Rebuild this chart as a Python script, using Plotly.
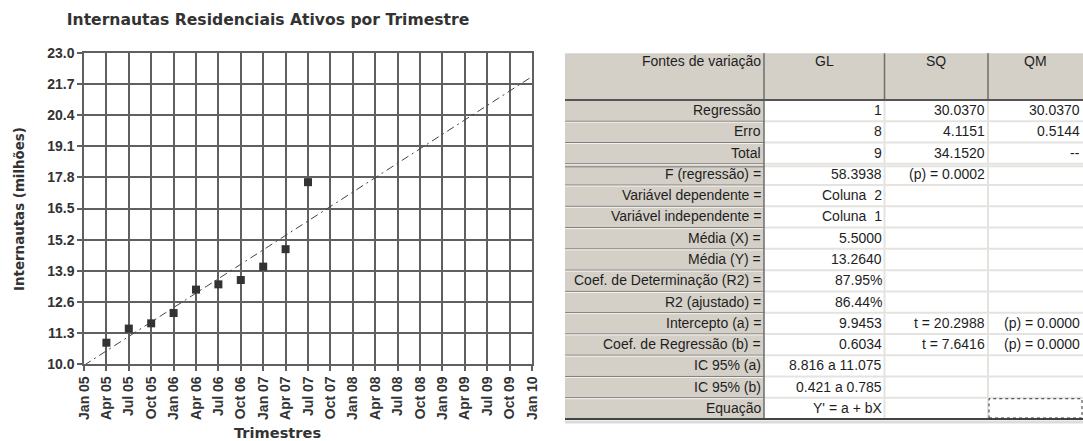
import plotly.graph_objects as go

# ---------------- data ----------------
quarters = ["Jan 05", "Apr 05", "Jul 05", "Oct 05", "Jan 06", "Apr 06", "Jul 06",
            "Oct 06", "Jan 07", "Apr 07", "Jul 07", "Oct 07", "Jan 08", "Apr 08",
            "Jul 08", "Oct 08", "Jan 09", "Apr 09", "Jul 09", "Oct 09", "Jan 10"]
obs_quarters = ["Apr 05", "Jul 05", "Oct 05", "Jan 06", "Apr 06", "Jul 06",
                "Oct 06", "Jan 07", "Apr 07", "Jul 07"]
users_mi = [10.89, 11.48, 11.70, 12.13, 13.11, 13.33, 13.51, 14.07, 14.80, 17.60]
intercept = 9.9453
slope = 0.6034

table_header = ["Fontes de variação", "GL", "SQ", "QM"]
row_labels = ["Regressão", "Erro", "Total", "F (regressão) =", "Variável dependente =",
              "Variável independente =", "Média (X) =", "Média (Y) =",
              "Coef. de Determinação (R2) =", "R2 (ajustado) =", "Intercepto (a) =",
              "Coef. de Regressão (b) =", "IC 95% (a)", "IC 95% (b)", "Equação"]
col_gl = ["1", "8", "9", "58.3938", "Coluna \u00a02", "Coluna \u00a01", "5.5000", "13.2640",
          "87.95%", "86.44%", "9.9453", "0.6034", "8.816 a 11.075", "0.421 a 0.785",
          "Y' = a + bX"]
col_sq = ["30.0370", "4.1151", "34.1520", "(p) = 0.0002", "", "", "", "", "", "",
          "t = 20.2988", "t = 7.6416", "", "", ""]
col_qm = ["30.0370", "0.5144", "--", "", "", "", "", "", "", "",
          "(p) = 0.0000", "(p) = 0.0000", "", "", ""]

# ---------------- layout helpers ----------------
W, H = 1083, 441
def px(x):
    return x / W
def py(y):
    return 1 - y / H

TXT = "#333333"
GRID = "#606060"
tickfont = dict(family="Liberation Sans, Arial, sans-serif", size=14, color=TXT, weight="bold")

fig = go.Figure()
idx_end = len(quarters) - 1
fig.add_trace(go.Scatter(
    x=[quarters[0], quarters[-1]],
    y=[intercept, intercept + slope * idx_end],
    mode="lines", line=dict(color="#444444", width=1, dash="8px,4px,2px,4px"),
    hoverinfo="skip", showlegend=False))
fig.add_trace(go.Scatter(
    x=obs_quarters, y=users_mi, mode="markers",
    marker=dict(symbol="square", size=8, color="#333333"), showlegend=False))

fig.update_layout(
    width=W, height=H, margin=dict(l=0, r=0, t=0, b=0, autoexpand=False),
    paper_bgcolor="white", plot_bgcolor="white",
    title=dict(text="<b>Internautas Residenciais Ativos por Trimestre</b>",
               x=px(268), xanchor="center", y=py(20), yanchor="middle",
               font=dict(family="DejaVu Sans, sans-serif", size=15.6, color=TXT)),
    xaxis=dict(type="category", categoryorder="array", categoryarray=quarters,
               range=[0, idx_end], domain=[px(84), px(532)], automargin=False,
               tickangle=-90, ticks="outside", ticklen=5, tickcolor=GRID, tickwidth=1.5,
               showgrid=True, gridcolor=GRID, gridwidth=1.5,
               showline=True, linecolor=GRID, linewidth=1.5, mirror=True,
               tickfont=tickfont, fixedrange=True),
    yaxis=dict(range=[10, 23], tick0=10, dtick=1.3, tickformat=".1f",
               domain=[py(364), py(53)], automargin=False,
               ticks="outside", ticklen=5, tickcolor=GRID, tickwidth=1.5,
               showgrid=True, gridcolor=GRID, gridwidth=1.5,
               showline=True, linecolor=GRID, linewidth=1.5, mirror=True,
               zeroline=False, tickfont=tickfont, fixedrange=True),
)

annotations = [
    dict(text="<b>Internautas (milhões)</b>", x=px(20), y=py(209), textangle=-90,
         xref="paper", yref="paper", showarrow=False, xanchor="center", yanchor="middle",
         font=dict(family="DejaVu Sans, sans-serif", size=13.4, color=TXT)),
    dict(text="<b>Trimestres</b>", x=px(277), y=py(432.5),
         xref="paper", yref="paper", showarrow=False, xanchor="center", yanchor="middle",
         font=dict(family="DejaVu Sans, sans-serif", size=14.6, color=TXT)),
]

# ---------------- table ----------------
col_edges = [565, 764, 884.5, 988, 1083]
head_top, head_bot = 53.3, 100
n_rows = len(row_labels)
tab_bot = 419
rh = (tab_bot - head_bot) / n_rows
GRAY = "#d4d0c8"
DARK = "#7a7a7a"
LIGHT = "#e4e3df"

shapes = []
def rect(x0, y0, x1, y1, fill):
    shapes.append(dict(type="rect", xref="paper", yref="paper", x0=px(x0), x1=px(x1),
                       y0=py(y1), y1=py(y0), fillcolor=fill, line=dict(width=0), layer="below"))
def line(x0, y0, x1, y1, color, width=1, dash="solid", layer="above"):
    shapes.append(dict(type="line", xref="paper", yref="paper", x0=px(x0), x1=px(x1),
                       y0=py(y0), y1=py(y1), line=dict(color=color, width=width, dash=dash),
                       layer=layer))

rect(col_edges[0], head_top, col_edges[-1], head_bot, GRAY)
rect(col_edges[0], head_bot, col_edges[1], tab_bot, GRAY)

# row separators
for i in range(1, n_rows):
    y = head_bot + i * rh
    line(col_edges[1], y, col_edges[-1], y, LIGHT, 2)
    line(col_edges[0], y, col_edges[1], y, DARK, 1)
    line(col_edges[0], y + 1, col_edges[1], y + 1, "#f4f3f0", 1)
# double line below "Total"
y_tot = head_bot + 3 * rh
line(col_edges[1], y_tot + 2.5, col_edges[-1], y_tot + 2.5, LIGHT, 2)
line(col_edges[0], y_tot + 3, col_edges[1], y_tot + 3, DARK, 1)
# column separators
for x in col_edges[2:4]:
    line(x, head_bot, x, tab_bot, LIGHT, 2)
    line(x, head_top, x, head_bot, "#6e6e6e", 1.5)
line(col_edges[1], head_top, col_edges[1], tab_bot, "#6e6e6e", 1.5)
# header bottom & table bottom
line(col_edges[0], head_bot, col_edges[-1], head_bot, "#555555", 2)
line(col_edges[0], tab_bot + 3, col_edges[-1], tab_bot + 3, "#dcdcdc", 3)
line(col_edges[0], tab_bot, col_edges[-1], tab_bot, "#444444", 2)
# focus rectangle on last cell
shapes.append(dict(type="rect", xref="paper", yref="paper",
                   x0=px(col_edges[3] + 1), x1=px(col_edges[4] - 1),
                   y0=py(tab_bot - 1), y1=py(tab_bot - rh + 1),
                   line=dict(color="#333333", width=1, dash="dot"), layer="above"))

tfont = dict(family="Liberation Sans, Arial, sans-serif", size=14, color="#1e1e1e")
def cell_text(text, x, y, anchor):
    if text:
        annotations.append(dict(text=text, x=px(x), y=py(y), xref="paper", yref="paper",
                                showarrow=False, xanchor=anchor, yanchor="middle",
                                font=tfont, borderpad=0))

# header
cell_text(table_header[0], col_edges[1] - 2, 61, "right")
for j in range(1, 4):
    cell_text(table_header[j], (col_edges[j] + col_edges[j + 1]) / 2, 61, "center")
# body
cols = [row_labels, col_gl, col_sq, col_qm]
for i in range(n_rows):
    yc = head_bot + i * rh + rh / 2 - 0.5
    for j, col in enumerate(cols):
        cell_text(col[i], col_edges[j + 1] - 2, yc, "right")

fig.update_layout(shapes=shapes, annotations=annotations)
fig.write_html("out.html", config={"displayModeBar": False},
               post_script="document.body.style.margin='0px';"
                           "document.body.style.overflow='hidden';")
